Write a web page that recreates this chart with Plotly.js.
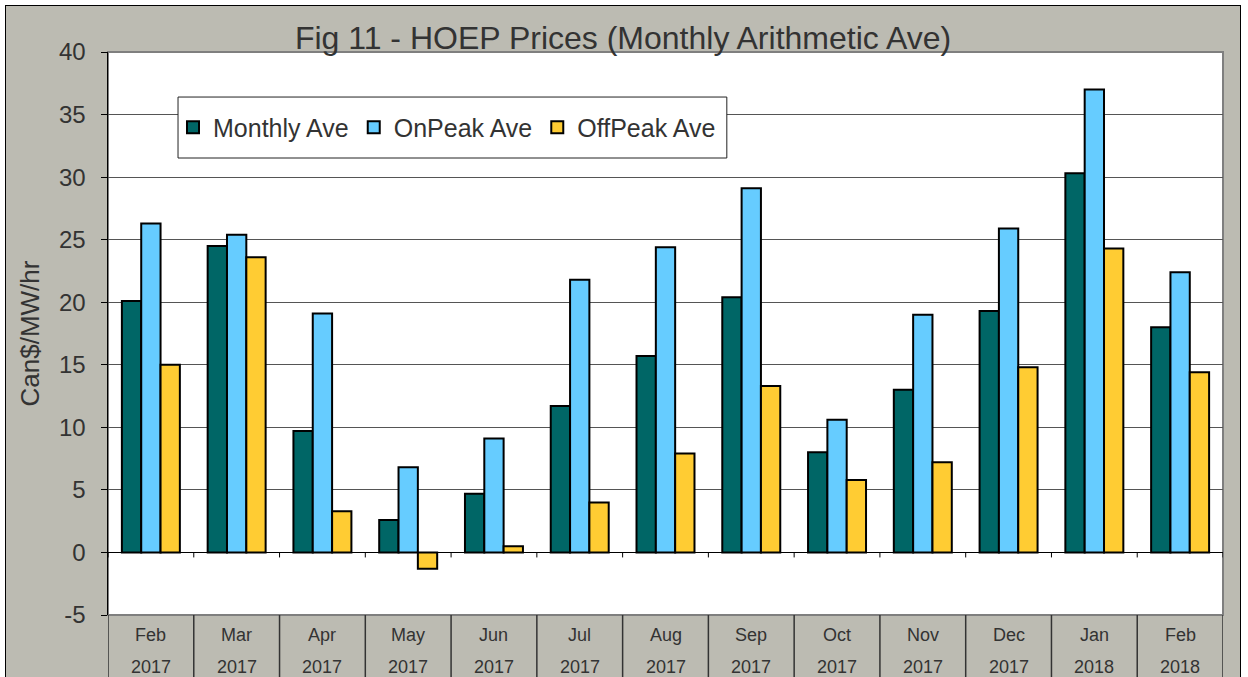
<!DOCTYPE html>
<html>
<head>
<meta charset="utf-8">
<script src="https://cdn.plot.ly/plotly-3.0.1.min.js"></script>
<style>
html,body{margin:0;padding:0;background:#fff;overflow:hidden;}
#wrap{position:absolute;left:5px;top:5px;width:1234px;height:700px;border:1px solid #000;overflow:hidden;}
#chart{width:1234px;height:700px;}
</style>
</head>
<body>
<div id="wrap"><div id="chart"></div></div>
<script>
const months = ["Feb","Mar","Apr","May","Jun","Jul","Aug","Sep","Oct","Nov","Dec","Jan","Feb"];
const years  = ["2017","2017","2017","2017","2017","2017","2017","2017","2017","2017","2017","2018","2018"];
const monthlyAve = [20.1, 24.5, 9.7, 2.6, 4.7, 11.7, 15.7, 20.4, 8.0, 13.0, 19.3, 30.3, 18.0];
const onPeakAve  = [26.3, 25.4, 19.1, 6.8, 9.1, 21.8, 24.4, 29.1, 10.6, 19.0, 25.9, 37.0, 22.4];
const offPeakAve = [15.0, 23.6, 3.3, -1.3, 0.5, 4.0, 7.9, 13.3, 5.8, 7.2, 14.8, 24.3, 14.4];
const seriesNames = ["Monthly Ave", "OnPeak Ave", "OffPeak Ave"];
const yTicks = [-5, 0, 5, 10, 15, 20, 25, 30, 35, 40];
const yTickText = ["-5", "0", "5", "10", "15", "20", "25", "30", "35", "40"];

const idx = months.map((m, i) => i);
const colors = ["#006666", "#66CCFF", "#FFCC33"];
const series = [monthlyAve, onPeakAve, offPeakAve];

const traces = series.map((vals, k) => ({
  type: "bar",
  name: seriesNames[k],
  x: idx,
  y: vals,
  marker: {color: colors[k], line: {color: "#000", width: 2}},
  hoverinfo: "skip"
}));

const TXT = "#333333";
const FONT = "Liberation Sans, Arial, sans-serif";

const shapes = [];
// plot area shadow border
shapes.push({type:"rect", xref:"paper", yref:"paper", x0:0, x1:1, y0:0, y1:1,
  line:{color:"#7f7f7f", width:2}, layer:"below"});
// category dividers in label area and small ticks on zero line
for (let i = 0; i <= months.length; i++) {
  shapes.push({type:"line", xref:"x", yref:"paper", x0:i-0.5, x1:i-0.5, y0:0, y1:-0.25,
    line:{color:"#333", width:1.5}});
  shapes.push({type:"line", xref:"x", yref:"y", ysizemode:"pixel", yanchor:0,
    x0:i-0.5, x1:i-0.5, y0:0, y1:-5, line:{color:"#000", width:1}});
}
// legend box
shapes.push({type:"rect", xref:"paper", yref:"paper", x0:0.0628, x1:0.555, y0:0.8117, y1:0.920,
  line:{color:"#222", width:1}, fillcolor:"#fff", layer:"above"});

const annotations = [];
idx.forEach(i => {
  annotations.push({xref:"x", yref:"paper", x:i, y:-0.0355, text:months[i], showarrow:false,
    yanchor:"middle", font:{family:FONT, size:18, color:TXT}});
  annotations.push({xref:"x", yref:"paper", x:i, y:-0.0924, text:years[i], showarrow:false,
    yanchor:"middle", font:{family:FONT, size:18, color:TXT}});
});

const layout = {
  width:1234, height:700,
  margin:{l:102, r:17, t:46, b:91},
  paper_bgcolor:"#bcbbb2",
  plot_bgcolor:"#ffffff",
  barmode:"group",
  bargap:0.324,
  bargroupgap:0,
  showlegend:true,
  title:{text:"Fig 11 - HOEP Prices (Monthly Arithmetic Ave)", xref:"container", x:0.5, xanchor:"center",
    yref:"container", y:1-32/700, yanchor:"middle", font:{family:FONT, size:32, color:TXT}},
  legend:{orientation:"h", x:0.0583, xanchor:"left", y:0.866, yanchor:"middle",
    bgcolor:"rgba(0,0,0,0)", borderwidth:0, font:{family:FONT, size:25, color:TXT},
    itemclick:false, traceorder:"normal"},
  xaxis:{range:[-0.5, months.length-0.5], showticklabels:false, ticks:"", showgrid:false,
    zeroline:false, showline:false, fixedrange:true},
  yaxis:{range:[-5, 40], tickvals:yTicks, ticktext:yTickText, ticks:"outside", ticklen:6, tickcolor:"#000", tickwidth:1,
    showline:true, linecolor:"#000", linewidth:1.5, showgrid:true, gridcolor:"#555", gridwidth:1,
    zeroline:true, zerolinecolor:"#000", zerolinewidth:1.5, ticklabelstandoff:10,
    tickfont:{family:FONT, size:24, color:TXT},
    title:{text:"Can$/MW/hr", standoff:12, font:{family:FONT, size:26, color:TXT}}},
  shapes:shapes,
  annotations:annotations
};

Plotly.newPlot("chart", traces, layout, {displayModeBar:false, staticPlot:true});
</script>
</body>
</html>
